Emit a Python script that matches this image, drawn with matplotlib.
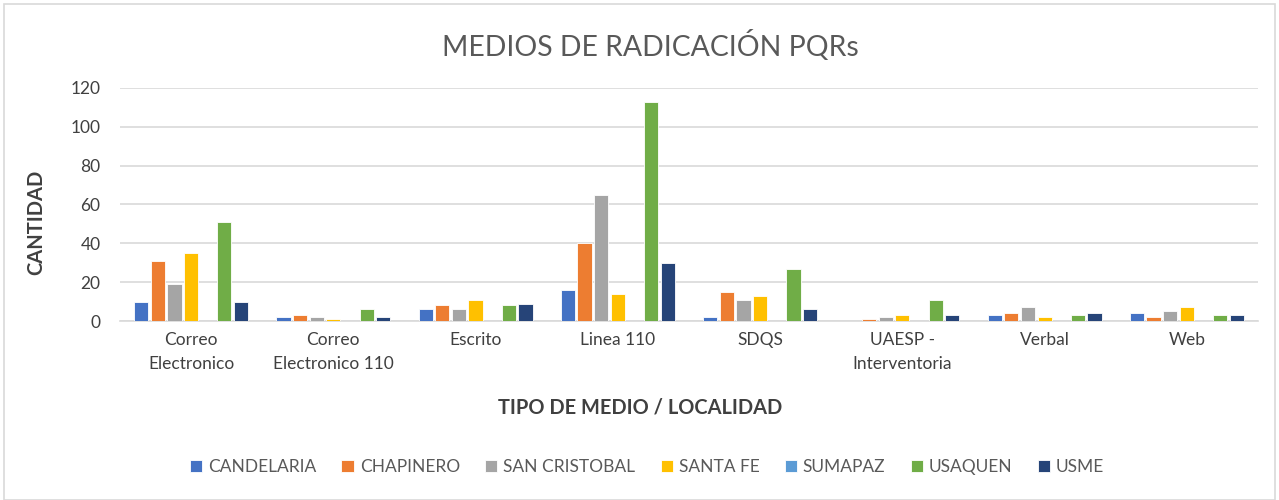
import matplotlib.pyplot as plt
import numpy as np
from matplotlib.patches import Rectangle

categories = ['Correo\nElectronico', 'Correo\nElectronico 110', 'Escrito', 'Linea 110',
              'SDQS', 'UAESP -\nInterventoria', 'Verbal', 'Web']
localidades = ['CANDELARIA', 'CHAPINERO', 'SAN CRISTOBAL', 'SANTA FE', 'SUMAPAZ', 'USAQUEN', 'USME']

candelaria = [10, 2, 6, 16, 2, 0, 3, 4]
chapinero = [31, 3, 8, 40, 15, 1, 4, 2]
san_cristobal = [19, 2, 6, 65, 11, 2, 7, 5]
santa_fe = [35, 1, 11, 14, 13, 3, 2, 7]
sumapaz = [0, 0, 0, 0, 0, 0, 0, 0]
usaquen = [51, 6, 8, 113, 27, 11, 3, 3]
usme = [10, 2, 9, 30, 6, 3, 4, 3]

series = [candelaria, chapinero, san_cristobal, santa_fe, sumapaz, usaquen, usme]
colors = ['#4472C4', '#ED7D31', '#A5A5A5', '#FFC000', '#5B9BD5', '#70AD47', '#264478']

plt.rcParams['font.family'] = ['Lato', 'DejaVu Sans']

fig = plt.figure(figsize=(12.79, 5), dpi=100)
ax = fig.add_axes([0.0938, 0.358, 0.8898, 0.466])

x = np.arange(len(categories))
step = 0.117
width = 0.1
for i, (name, vals) in enumerate(zip(localidades, series)):
    ax.bar(x + (i - 3) * step, vals, width, color=colors[i], label=name,
           edgecolor='white', linewidth=0.6, zorder=3)

ax.set_xlim(-0.5, len(categories) - 0.5)
ax.set_ylim(0, 120)
ax.set_yticks(range(0, 121, 20))
ax.set_xticks(x)
ax.set_xticklabels(categories, fontsize=12.5, color='#404040', linespacing=1.6)
ax.tick_params(axis='y', labelsize=12.5, labelcolor='#404040', length=0, pad=14)
ax.tick_params(axis='x', length=0, pad=8)
ax.grid(axis='y', color='#d9d9d9', linewidth=1.2, zorder=0)
for s in ['top', 'right', 'left']:
    ax.spines[s].set_visible(False)
ax.spines['bottom'].set_color('#d9d9d9')
ax.spines['bottom'].set_linewidth(1.2)

fig.text(650 / 1279, 1 - 45 / 500, 'MEDIOS DE RADICACIÓN PQRs', ha='center', va='center',
         fontsize=20.4, color='#595959')
fig.text(36 / 1279, 1 - 222 / 500, 'CANTIDAD', rotation=90, ha='center', va='center',
         fontsize=14.5, fontweight='bold', color='#404040')
fig.text(640 / 1279, 1 - 407 / 500, 'TIPO DE MEDIO / LOCALIDAD', ha='center', va='center',
         fontsize=14.4, fontweight='bold', color='#404040')

leg = fig.legend(loc='center', bbox_to_anchor=(647 / 1279, 1 - 467 / 500), ncol=7,
                 frameon=False, fontsize=12.5, handlelength=0.7, handleheight=0.7,
                 columnspacing=1.45, handletextpad=0.35)
for t in leg.get_texts():
    t.set_color('#595959')

fig.patches.append(Rectangle((4 / 1279, 0), 1271 / 1279, 1 - 4 / 500, transform=fig.transFigure,
                             fill=False, edgecolor='#d9d9d9', linewidth=1.2))

fig.savefig('out.png', dpi=100)
